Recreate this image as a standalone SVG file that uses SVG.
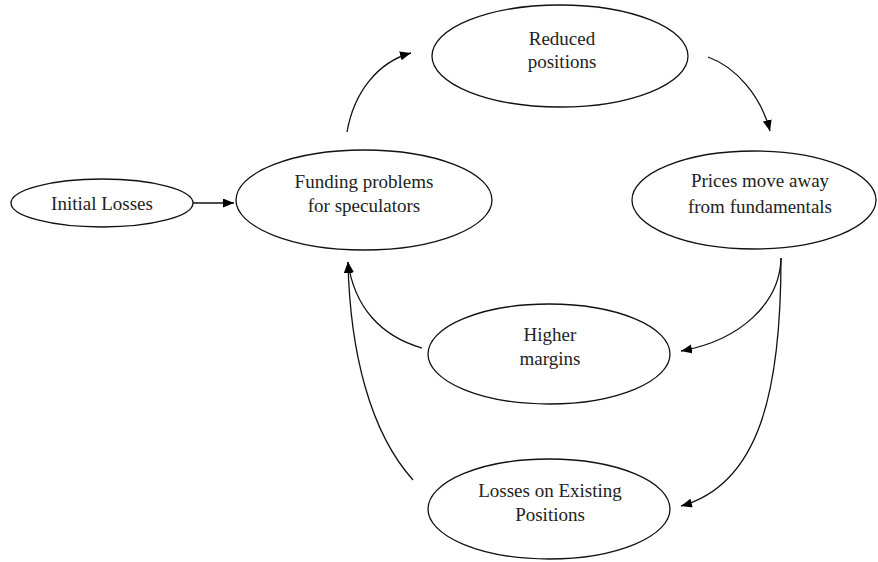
<svg xmlns="http://www.w3.org/2000/svg" width="878" height="562" viewBox="0 0 878 562">
<style>
.n ellipse{fill:#fff;stroke:#111;stroke-width:1.3}
.n text{font-family:"Liberation Serif","Times New Roman",serif;font-size:19px;fill:#222;text-anchor:middle}
.c path{fill:none;stroke:#111;stroke-width:1.3}
</style>
<defs>
<marker id="ah" markerUnits="userSpaceOnUse" markerWidth="12" markerHeight="10" refX="11" refY="4.5" orient="auto">
<path d="M0,0 L11,4.5 L0,9 z" fill="#000"/>
</marker>
</defs>
<rect width="878" height="562" fill="#fff"/>
<g class="c">
<path d="M178,203 L234,203" marker-end="url(#ah)"/>
<path d="M347,132 C354,92 378,62 411,53" marker-end="url(#ah)"/>
<path d="M708,57 C736,67 761,96 770,131" marker-end="url(#ah)"/>
<path d="M781,258 C780,302 742,340 681,351" marker-end="url(#ah)"/>
<path d="M781,258 C781,390 760,484 681,506" marker-end="url(#ah)"/>
<path d="M422,348 C380,336 354,306 348,262" marker-end="url(#ah)"/>
<path d="M413,480 C370,432 350,352 348,262" marker-end="url(#ah)"/>
</g>
<g id="initial" class="n">
<ellipse cx="102" cy="203" rx="91" ry="24"/>
<text x="102" y="210">Initial Losses</text>
</g>
<g id="funding" class="n">
<ellipse cx="364" cy="200" rx="128" ry="50"/>
<text x="364" y="188">Funding problems</text>
<text x="364" y="212">for speculators</text>
</g>
<g id="reduced" class="n">
<ellipse cx="560" cy="56" rx="128" ry="51"/>
<text x="562" y="45">Reduced</text>
<text x="562" y="68">positions</text>
</g>
<g id="prices" class="n">
<ellipse cx="754" cy="200" rx="122" ry="49"/>
<text x="760" y="187">Prices move away</text>
<text x="760" y="213">from fundamentals</text>
</g>
<g id="margins" class="n">
<ellipse cx="549" cy="354" rx="121" ry="50"/>
<text x="550" y="341">Higher</text>
<text x="550" y="365">margins</text>
</g>
<g id="losses" class="n">
<ellipse cx="549" cy="509" rx="121" ry="50"/>
<text x="550" y="497">Losses on Existing</text>
<text x="550" y="521">Positions</text>
</g>
</svg>
